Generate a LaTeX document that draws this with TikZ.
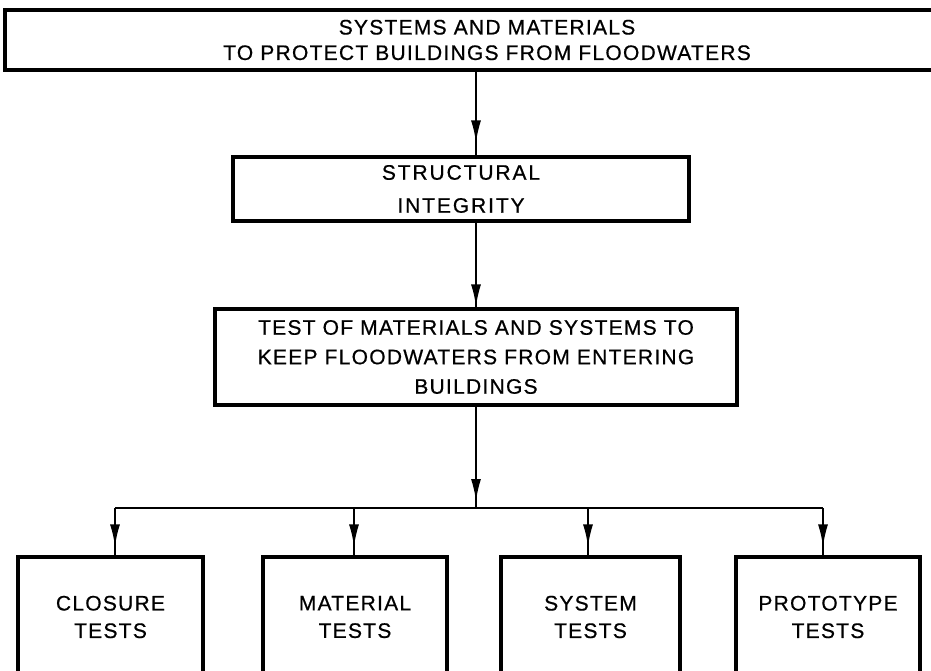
\documentclass[tikz,border=0pt]{standalone}
\usepackage{fontspec}
\setmainfont{Liberation Sans}[LetterSpace=6,FakeBold=0.6]
\usetikzlibrary{arrows.meta,decorations.markings}
\tikzset{
  box/.style={draw, line width=3.2pt, rectangle, inner sep=0pt, align=center, text=black},
  conn/.style={line width=1.8pt},
  tipat/.style={postaction={decorate,decoration={markings,
      mark=at position #1 with {\arrow{Latex[length=22pt,width=10pt]}}}}},
}
\begin{document}
\begin{tikzpicture}[x=1pt,y=-1pt]
\clip (0,0) rectangle (931,671);
\fill[white] (0,0) rectangle (931,671);

% boxes
\node[box, minimum width=964pt, minimum height=60pt,
      font=\fontsize{21}{25.5}\selectfont] (title) at (487,40)
  {SYSTEMS AND MATERIALS\\TO PROTECT BUILDINGS FROM FLOODWATERS};
\node[box, minimum width=456pt, minimum height=64pt,
      font=\fontsize{21}{33}\selectfont\addfontfeature{LetterSpace=9}] (struct) at (461,189)
  {STRUCTURAL\\INTEGRITY};
\node[box, minimum width=522pt, minimum height=96pt,
      font=\fontsize{21}{29.5}\selectfont] (tests) at (476,357)
  {TEST OF MATERIALS AND SYSTEMS TO\\KEEP FLOODWATERS FROM ENTERING\\BUILDINGS};

\node[box, minimum width=185pt, minimum height=120pt,
      font=\fontsize{21}{27.5}\selectfont] (b1) at (110.5,617) {CLOSURE\\TESTS};
\node[box, minimum width=184pt, minimum height=120pt,
      font=\fontsize{21}{27.5}\selectfont] (b2) at (355,617) {MATERIAL\\TESTS};
\node[box, minimum width=179pt, minimum height=120pt,
      font=\fontsize{21}{27.5}\selectfont] (b3) at (590.5,617) {SYSTEM\\TESTS};
\node[box, minimum width=184pt, minimum height=120pt,
      font=\fontsize{21}{27.5}\selectfont] (b4) at (828,617) {PROTOTYPE\\TESTS};

% connector coordinates
\coordinate (ax) at (476,0);
\coordinate (bus) at (476,508);
\coordinate (a1) at (115,508);
\coordinate (a2) at (354,508);
\coordinate (a3) at (588,508);
\coordinate (a4) at (823,508);

% connectors
\draw[conn, tipat=-13pt] (title.south -| ax) -- (struct.north -| ax);
\draw[conn, tipat=-1pt] (struct.south -| ax) -- (tests.north -| ax);
\draw[conn, tipat=-7pt] (tests.south -| ax) -- (bus);
\draw[conn] (a1) -- (a4);
\draw[conn, tipat=-9pt] (a1) -- (b1.north -| a1);
\draw[conn, tipat=-9pt] (a2) -- (b2.north -| a2);
\draw[conn, tipat=-9pt] (a3) -- (b3.north -| a3);
\draw[conn, tipat=-9pt] (a4) -- (b4.north -| a4);
\end{tikzpicture}
\end{document}
